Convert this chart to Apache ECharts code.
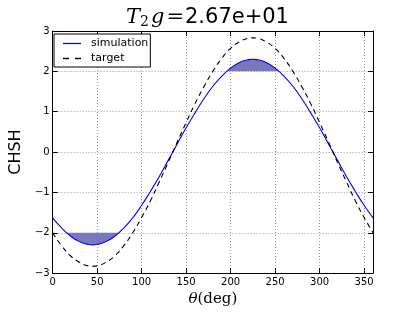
<!DOCTYPE html>
<html><head><meta charset="utf-8">
<script src="https://cdn.jsdelivr.net/npm/echarts@6/dist/echarts.min.js"></script>
<style>html,body{margin:0;padding:0;background:#fff}#c{width:415px;height:312px}</style>
</head><body><div id="c"></div>
<script>
var theta = [0,10,20,30,40,45,50,60,70,80,90,100,110,120,130,140,150,160,170,180,190,200,210,220,225,230,240,250,260,270,280,290,300,310,320,330,340,350,360];
var simulation = [-1.63,-1.88,-2.08,-2.22,-2.29,-2.30,-2.29,-2.22,-2.08,-1.88,-1.63,-1.32,-0.97,-0.60,-0.20,0.20,0.60,0.97,1.32,1.63,1.88,2.08,2.22,2.29,2.30,2.29,2.22,2.08,1.88,1.63,1.32,0.97,0.60,0.20,-0.20,-0.60,-0.97,-1.32,-1.63];
var target = [-2.00,-2.32,-2.57,-2.73,-2.82,-2.83,-2.82,-2.73,-2.57,-2.32,-2.00,-1.62,-1.20,-0.73,-0.25,0.25,0.73,1.20,1.62,2.00,2.32,2.57,2.73,2.82,2.83,2.82,2.73,2.57,2.32,2.00,1.62,1.20,0.73,0.25,-0.25,-0.73,-1.20,-1.62,-2.00];
var shadeLowTheta = [15.4,20,25,30,35,40,45,50,55,60,65,70,74.6];
var shadeLowSim = [-2.00,-2.08,-2.16,-2.22,-2.26,-2.29,-2.30,-2.29,-2.26,-2.22,-2.16,-2.08,-2.00];
var shadeHighTheta = [195.4,200,205,210,215,220,225,230,235,240,245,250,254.6];
var shadeHighSim = [2.00,2.08,2.16,2.22,2.26,2.29,2.30,2.29,2.26,2.22,2.16,2.08,2.00];
var threshold = 2;

var chart = echarts.init(document.getElementById('c'));
function pairs(xs, ys){ return xs.map(function(x,i){return [x, ys[i]];}); }
var fillColor = '#7878bc';
var axFont = {fontFamily:'DejaVu Sans', fontSize:10, color:'#000'};
function fmt(v){ return v < 0 ? '\u2212' + Math.abs(v) : String(v); }
var frameAxis = {
  axisLine:{show:true, onZero:false, lineStyle:{color:'#000', width:1}},
  axisTick:{show:true, inside:true, length:5, lineStyle:{color:'#000'}}
};
function shadeSeries(xs, ys, base){
  return {
    type:'custom', silent:true, z:1, xAxisIndex:0, yAxisIndex:0,
    data:[0],
    renderItem:function(params, api){
      var pts = xs.map(function(x,i){ return api.coord([x, ys[i]]); });
      pts.push(api.coord([xs[xs.length-1], base]));
      pts.push(api.coord([xs[0], base]));
      return {type:'polygon', shape:{points:pts}, style:{fill:fillColor, lineWidth:0}};
    }
  };
}
var option = {
  animation:false,
  title:{
    text:'{it|T}{sub|2}{it|g}{eq|=}{num|2.67e+01}',
    left:'center', top:2,
    textStyle:{rich:{
      it:{fontFamily:'DejaVu Serif', fontStyle:'italic', fontWeight:'normal', fontSize:21, color:'#000'},
      sub:{fontFamily:'DejaVu Serif', fontWeight:'normal', fontSize:14, color:'#000', verticalAlign:'bottom', padding:[8,2,0,0]},
      eq:{fontFamily:'DejaVu Serif', fontWeight:'normal', fontSize:21, color:'#000', padding:[0,1,0,2]},
      num:{fontFamily:'DejaVu Sans', fontWeight:'normal', fontSize:21, color:'#000'}
    }}
  },
  grid:{left:52, right:42, top:31, bottom:32},
  legend:{
    left:54, top:34, orient:'vertical', itemGap:4, itemWidth:18, itemHeight:10,
    padding:[4,2,3,9], borderColor:'#000', borderWidth:1, backgroundColor:'#fff',
    textStyle:{fontFamily:'DejaVu Sans', fontSize:11, color:'#000', padding:[0,0,0,5]},
    data:[
      {name:'simulation', icon:'path://M0,0H18V1.2H0Z', itemStyle:{color:'#0000ff', borderWidth:0}},
      {name:'target', icon:'path://M0,0H5V1.2H0ZM10,0H15V1.2H10Z', itemStyle:{color:'#000', borderWidth:0}}
    ]
  },
  xAxis:[Object.assign({
    type:'value', min:0, max:360, interval:50,
    axisLabel:Object.assign({margin:4, showMaxLabel:false, formatter:function(v){return v%50===0?fmt(v):'';}}, axFont),
    splitLine:{show:true, lineStyle:{color:'#999', type:[1,2], width:1}},
    name:'{it|θ}{rm|(deg)}', nameLocation:'middle', nameGap:17,
    nameTextStyle:{rich:{it:{fontFamily:'DejaVu Serif', fontStyle:'italic', fontSize:15, color:'#000'}, rm:{fontFamily:'DejaVu Serif', fontSize:15, color:'#000'}}}
  }, frameAxis),Object.assign({
    type:'value', min:0, max:360, interval:50, position:'top',
    axisLabel:{show:false}, splitLine:{show:false}
  }, frameAxis)],
  yAxis:[Object.assign({
    type:'value', min:-3, max:3, interval:1,
    axisLabel:Object.assign({margin:3, formatter:fmt}, axFont),
    splitLine:{show:true, lineStyle:{color:'#999', type:[1,2], width:1}},
    name:'CHSH', nameLocation:'middle', nameGap:18,
    nameTextStyle:{fontFamily:'DejaVu Sans', fontSize:16, color:'#000'}
  }, frameAxis),Object.assign({
    type:'value', min:-3, max:3, interval:1, position:'right',
    axisLabel:{show:false}, splitLine:{show:false}
  }, frameAxis)],
  series:[
    shadeSeries(shadeLowTheta, shadeLowSim, -threshold),
    shadeSeries(shadeHighTheta, shadeHighSim, threshold),
    {name:'simulation', type:'line', data:pairs(theta, simulation), symbol:'none', smooth:true, lineStyle:{color:'#0000ff', width:1.1}, itemStyle:{color:'#0000ff'}, z:3},
    {name:'target', type:'line', data:pairs(theta, target), symbol:'none', smooth:true, lineStyle:{color:'#000', width:1.1, type:[5,4]}, itemStyle:{color:'#000'}, z:3}
  ]
};
chart.setOption(option);
</script></body></html>
